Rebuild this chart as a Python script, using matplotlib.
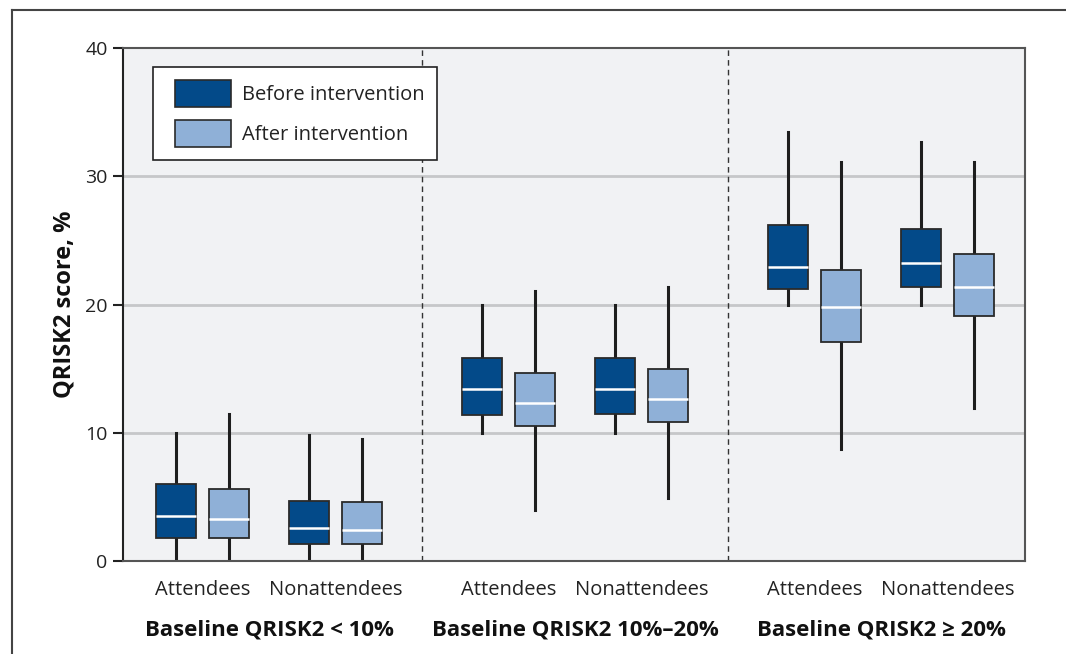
import matplotlib.pyplot as plt
from matplotlib.patches import Patch
from matplotlib.lines import Line2D
from matplotlib.legend_handler import HandlerPatch

plt.rcParams.update({
    "font.family": ["Open Sans", "DejaVu Sans"],
})

groups = ['Baseline QRISK2 < 10%', 'Baseline QRISK2 10%\u201320%', 'Baseline QRISK2 \u2265 20%']
subgroups = ['Attendees', 'Nonattendees']
series = ['Before intervention', 'After intervention']

# per group: [att_before, att_after, non_before, non_after]
whisker_lo = [[0.2, 0.2, 0.1, 0.1],
              [10.0, 4.0, 10.0, 4.9],
              [20.0, 8.7, 20.0, 11.9]]
q1 = [[1.8, 1.8, 1.3, 1.3],
      [11.4, 10.5, 11.5, 10.8],
      [21.2, 17.1, 21.4, 19.1]]
median = [[3.5, 3.3, 2.55, 2.45],
          [13.4, 12.3, 13.4, 12.65],
          [22.95, 19.8, 23.25, 21.4]]
q3 = [[6.0, 5.6, 4.7, 4.6],
      [15.85, 14.65, 15.8, 15.0],
      [26.2, 22.7, 25.9, 23.95]]
whisker_hi = [[10.0, 11.45, 9.8, 9.5],
              [20.0, 21.05, 20.0, 21.35],
              [33.45, 31.15, 32.7, 31.15]]

colors = ['#034a89', '#8fb0d7']

fig = plt.figure(figsize=(10.66, 6.54), dpi=100)
ax = fig.add_axes([123 / 1066, 1 - 561 / 654, 902 / 1066, 513 / 654])
ax.set_facecolor('#f1f2f4')

pair_off = 0.217
box_off = 0.0866
width = 0.131

stats, positions, facecols = [], [], []
for g in range(len(groups)):
    for s in range(len(subgroups)):
        for k in range(len(series)):
            i = s * 2 + k
            stats.append(dict(med=median[g][i], q1=q1[g][i], q3=q3[g][i],
                              whislo=whisker_lo[g][i], whishi=whisker_hi[g][i], fliers=[]))
            positions.append(g + 1 + (2 * s - 1) * pair_off + (2 * k - 1) * box_off)
            facecols.append(colors[k])

bp = ax.bxp(stats, positions=positions, widths=width, patch_artist=True,
            showcaps=False, showfliers=False,
            boxprops=dict(edgecolor='#2a2a2a', linewidth=1.3),
            medianprops=dict(color='white', linewidth=1.8),
            whiskerprops=dict(color='#1e1e1e', linewidth=2.2))
for patch, c in zip(bp['boxes'], facecols):
    patch.set_facecolor(c)
    patch.set_zorder(3)
for w in bp['whiskers']:
    w.set_zorder(2)
for m in bp['medians']:
    m.set_zorder(4)

for y in [10, 20, 30]:
    ax.axhline(y, color='#c6c7c9', linewidth=2, zorder=1)
for x in [1.5, 2.5]:
    ax.axvline(x, color='#333333', linewidth=1, linestyle=(0, (4, 3)), zorder=1)

ax.set_xlim(0.523, 3.47)
ax.set_ylim(0, 40)
ax.set_yticks([0, 10, 20, 30, 40])
ax.tick_params(axis='y', labelsize=14, length=7, width=1.5, color='#222222', labelcolor='#222222', pad=4)

xt, xl = [], []
for g in range(len(groups)):
    for s in range(len(subgroups)):
        xt.append(g + 1 + (2 * s - 1) * pair_off)
        xl.append(subgroups[s])
ax.set_xticks(xt)
ax.set_xticklabels(xl, fontsize=14.5, color='#222222')
ax.tick_params(axis='x', length=0, pad=14)

for g, name in enumerate(groups):
    ax.text(g + 1, -5.4, name, ha='center', va='center', fontsize=16,
            fontweight='bold', color='#111111', transform=ax.transData, clip_on=False)

for sp in ax.spines.values():
    sp.set_color('#555555')
    sp.set_linewidth(1.5)
ax.spines['left'].set_color('#222222')

ax.set_ylabel('QRISK2 score, %', fontsize=17, fontweight='bold', color='#111111', labelpad=6)

handles = [Patch(facecolor=c, edgecolor='#2a2a2a', linewidth=1.2) for c in colors]
leg = ax.legend(handles, series, loc='upper left', bbox_to_anchor=(30 / 902, 1 - 19 / 513),
                fontsize=14.5, frameon=True, fancybox=False, framealpha=1,
                handlelength=3.2, handleheight=1.69,
                borderpad=0.65, labelspacing=0.65, handletextpad=0.55, borderaxespad=0,
                handler_map={Patch: HandlerPatch(xpad=0.45)})
leg.get_frame().set_edgecolor('#222222')
leg.get_frame().set_linewidth(1.2)
for t in leg.get_texts():
    t.set_color('#222222')

# outer frame (cropped figure border)
fig.add_artist(Line2D([12 / 1066, 12 / 1066], [0, 1 - 10 / 654], color='#444444', linewidth=1.5))
fig.add_artist(Line2D([12 / 1066, 1], [1 - 10 / 654, 1 - 10 / 654], color='#444444', linewidth=1.5))

fig.savefig('out.png', dpi=100)
